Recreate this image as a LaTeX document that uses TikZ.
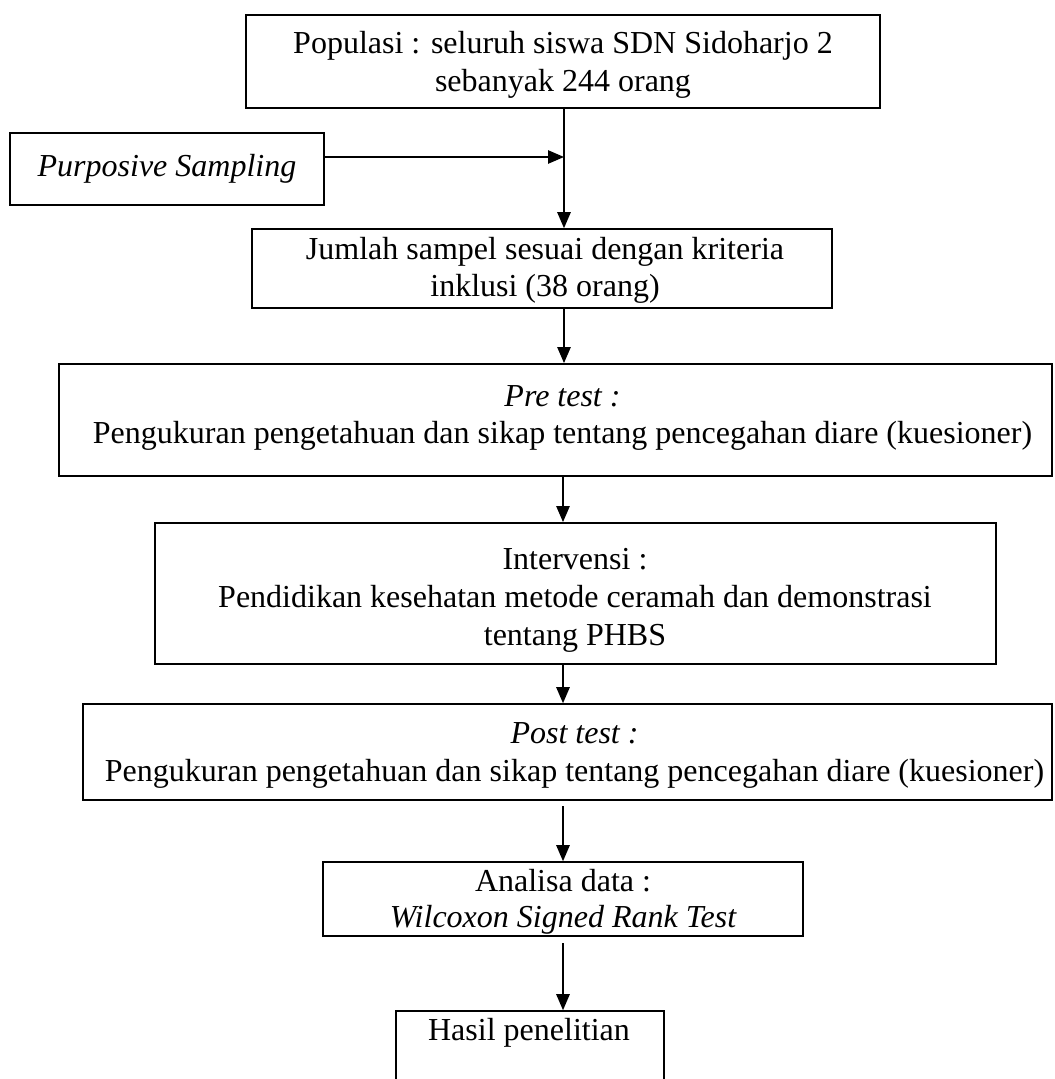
\documentclass[tikz,border=0pt]{standalone}
\usepackage{fontspec}
\setmainfont{Liberation Serif}
\usetikzlibrary{arrows.meta}
\begin{document}
\begin{tikzpicture}[x=0.75pt,y=-0.75pt,
  box/.style={draw, line width=1.2pt, inner sep=0pt},
  txt/.style={inner sep=0pt, anchor=base, font=\fontsize{24}{28}\selectfont},
  arr/.style={line width=1.2pt, -{Triangle[length=12pt,width=10pt]}}]
\useasboundingbox (0,0) rectangle (1054,1079);
% boxes
\node[box, line width=1.6pt, minimum width=475.5pt, minimum height=69.75pt] (pop) at (563,61.5) {};
\node[box, minimum width=235.5pt, minimum height=54pt] (purp) at (167,169) {};
\node[box, minimum width=435pt, minimum height=59.25pt] (jum) at (542,268.5) {};
\node[box, line width=1.4pt, minimum width=744.75pt, minimum height=84pt] (pre) at (555.5,420) {};
\node[box, line width=1.4pt, minimum width=630.75pt, minimum height=105.75pt] (int) at (575.5,593.5) {};
\node[box, minimum width=726.75pt, minimum height=72pt] (post) at (567.5,752) {};
\node[box, minimum width=360pt, minimum height=55.5pt] (ana) at (563,899) {};
\node[box, minimum width=201pt, minimum height=63pt] (has) at (530,1053) {};
% texts
\node[txt] (pop1) at (563,53) {Populasi : seluruh siswa SDN Sidoharjo 2};
\node[txt] (pop2) at (563,91) {sebanyak 244 orang};
\node[txt] (purpt) at (167,176) {\itshape Purposive Sampling};
\node[txt] (jum1) at (545,259) {Jumlah sampel sesuai dengan kriteria};
\node[txt] (jum2) at (545,296) {inklusi (38 orang)};
\node[txt] (pre1) at (562.5,406) {\itshape Pre test :};
\node[txt] (pre2) at (562.5,443) {Pengukuran pengetahuan dan sikap tentang pencegahan diare (kuesioner)};
\node[txt] (int1) at (575,569) {Intervensi :};
\node[txt] (int2) at (575,607) {Pendidikan kesehatan metode ceramah dan demonstrasi};
\node[txt] (int3) at (575,645) {tentang PHBS};
\node[txt] (post1) at (574.5,743) {\itshape Post test :};
\node[txt] (post2) at (574.5,781) {Pengukuran pengetahuan dan sikap tentang pencegahan diare (kuesioner)};
\node[txt] (ana1) at (563,891) {Analisa data :};
\node[txt] (ana2) at (563,927) {\itshape Wilcoxon Signed Rank Test};
\node[txt] (has1) at (529,1040) {Hasil penelitian};
% connectors
\coordinate (pj) at (564,157);
\draw[arr] (purp.east |- pj) -- (pj);
\draw[arr] (pop.south -| pj) -- (jum.north -| pj);
\draw[arr] (jum.south -| pj) -- (pre.north -| pj);
\draw[arr] (pre.south -| ana.north) -- (int.north -| ana.north);
\draw[arr] (int.south -| ana.north) -- (post.north -| ana.north);
\draw[arr] ([yshift=-4pt]post.south -| ana.north) -- (ana.north);
\draw[arr] ([yshift=-5pt]ana.south) -- (has.north -| ana.south);
\end{tikzpicture}
\end{document}
